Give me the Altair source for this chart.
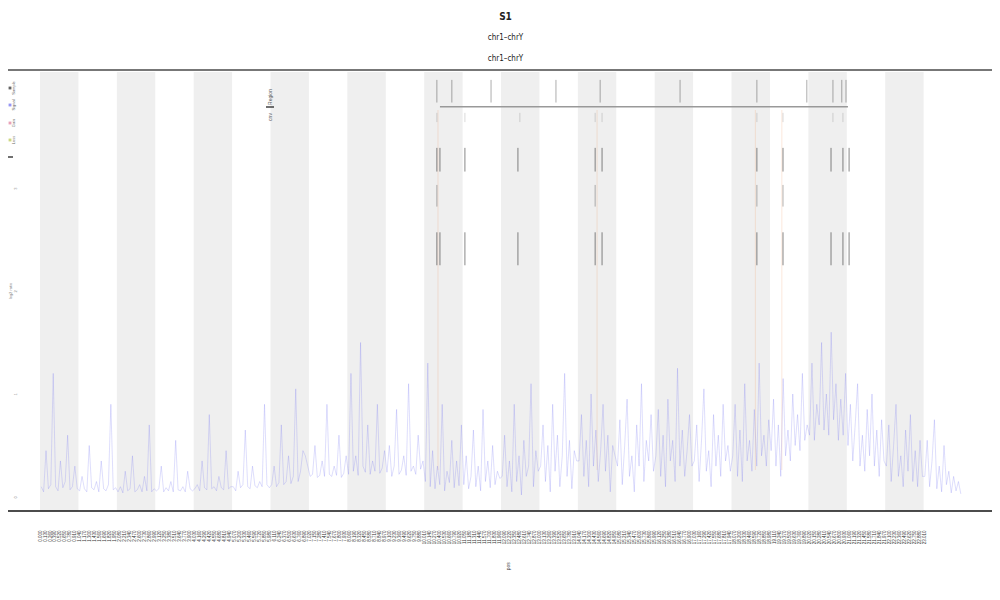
import altair as alt
import pandas as pd

# ---------------- data ----------------
n_segments = 24
# signal values per segment
seg_values = [
    [0.10,0.05,0.45,0.08,0.12,1.20,0.10,0.06,0.35,0.09,0.15,0.60,0.07,0.10,0.30,0.08],
    [0.06,0.20,0.08,0.05,0.50,0.09,0.07,0.15,0.05,0.35,0.08,0.06,0.12,0.90,0.07,0.09],
    [0.05,0.10,0.04,0.25,0.06,0.08,0.40,0.05,0.07,0.12,0.05,0.20,0.06,0.70,0.05,0.08],
    [0.06,0.08,0.30,0.05,0.09,0.06,0.15,0.05,0.55,0.07,0.06,0.10,0.05,0.25,0.08,0.06],
    [0.08,0.12,0.06,0.35,0.09,0.07,0.80,0.08,0.10,0.06,0.20,0.09,0.07,0.45,0.08,0.10],
    [0.10,0.06,0.25,0.09,0.12,0.65,0.10,0.08,0.30,0.11,0.09,0.15,0.10,0.90,0.12,0.09],
    [0.12,0.30,0.10,0.14,0.70,0.12,0.15,0.40,0.13,0.20,1.05,0.15,0.25,0.45,0.40,0.30],
    [0.20,0.22,0.50,0.19,0.21,0.35,0.20,0.90,0.22,0.20,0.30,0.21,0.60,0.19,0.23,0.40],
    [0.22,1.20,0.25,0.40,0.21,1.50,0.30,0.24,0.70,0.22,0.35,0.25,0.90,0.23,0.28,0.45],
    [0.24,0.50,0.20,0.30,0.85,0.22,0.26,0.40,0.21,1.10,0.25,0.30,0.22,0.60,0.27,0.35],
    [0.15,1.30,0.10,0.45,0.08,0.30,0.12,0.90,0.06,0.25,0.14,0.55,0.09,0.35,0.11,0.70],
    [0.12,0.40,0.08,0.20,0.65,0.10,0.30,0.06,0.85,0.15,0.35,0.09,0.50,0.12,0.25,0.18],
    [0.20,0.60,0.10,0.35,0.05,0.90,0.15,0.40,0.02,0.55,0.20,0.30,1.10,0.10,0.45,0.25],
    [0.30,0.70,0.15,0.50,0.05,0.90,0.25,0.60,0.10,0.40,1.20,0.20,0.55,0.08,0.45,0.35],
    [0.35,0.80,0.20,0.55,0.10,1.00,0.30,0.65,0.15,0.45,0.90,0.25,0.60,0.05,0.50,0.40],
    [0.30,0.75,0.12,0.50,0.95,0.20,0.40,0.05,0.70,0.30,1.10,0.15,0.55,0.35,0.80,0.25],
    [0.40,0.85,0.20,0.60,0.10,0.95,0.35,0.55,0.15,1.25,0.30,0.65,0.20,0.45,0.80,0.30],
    [0.35,0.70,0.15,0.55,1.05,0.25,0.45,0.10,0.80,0.30,0.60,0.20,0.90,0.35,0.50,0.25],
    [0.40,0.90,0.20,0.65,0.15,1.10,0.35,0.55,0.25,0.85,0.30,1.30,0.40,0.60,0.30,0.75],
    [0.45,0.95,0.30,0.70,0.20,1.15,0.40,0.65,0.35,1.00,0.50,0.80,0.45,1.20,0.55,0.70],
    [0.60,1.30,0.55,0.90,0.70,1.50,0.65,1.00,0.60,1.60,0.75,1.10,0.55,0.95,0.60,1.20],
    [0.50,0.90,0.35,0.70,1.10,0.30,0.60,0.25,0.85,0.40,1.00,0.30,0.65,0.20,0.75,0.35],
    [0.30,0.70,0.15,0.50,0.90,0.20,0.40,0.10,0.65,0.25,0.80,0.15,0.45,0.10,0.55,0.20],
    [0.20,0.55,0.10,0.35,0.75,0.08,0.30,0.05,0.50,0.12,0.25,0.04,0.20,0.06,0.15,0.03],
]

# annotation track events: (position, row)
event_pos = [10.33, 10.72, 11.74, 13.43, 14.58, 16.66, 18.66, 19.96, 20.64, 20.87, 20.98,
             10.33, 11.06, 12.49, 14.45, 14.63, 18.66, 19.34, 20.64, 20.90,
             10.33, 10.41, 11.06, 12.44, 14.45, 14.63, 18.66, 19.34, 20.59, 20.90, 21.06,
             10.33, 14.45, 18.66, 19.34,
             10.33, 10.41, 11.06, 12.44, 14.45, 14.63, 18.66, 19.34, 20.59, 20.90, 21.06]
event_row = ["A"]*11 + ["B"]*9 + ["C"]*11 + ["D"]*4 + ["E"]*11
row_top = {"A": 4.05, "B": 3.73, "C": 3.39, "D": 3.03, "E": 2.57}
row_bot = {"A": 3.83, "B": 3.64, "C": 3.16, "D": 2.82, "E": 2.25}
row_opacity = {"A": 0.55, "B": 0.25, "C": 0.8, "D": 0.5, "E": 0.8}

span_start, span_end, span_level = 10.41, 21.03, 3.79
marker_pos = [10.36, 14.50, 18.62, 19.31]

legend_labels = ["Sample", "Signal", "Gain", "Loss"]
legend_colors = ["#222222", "#6a6af0", "#e07a9a", "#b8c84a"]
title_lines = ["S1"]
subtitle_lines = ["chr1–chrY", "chr1–chrY"]
x_title = "pos"
y_title = "log2 ratio"

# ---------------- tables ----------------
rows = []
for i, vals in enumerate(seg_values):
    n = len(vals)
    for k, v in enumerate(vals):
        rows.append({"u": i + (k + 0.5) / n, "v": v})
line_df = pd.DataFrame(rows)

band_df = pd.DataFrame({"u": [float(i) for i in range(0, n_segments, 2)],
                        "u2": [float(i + 1) for i in range(0, n_segments, 2)]})
ev_df = pd.DataFrame({"u": event_pos, "row": event_row})
ev_df["v"] = ev_df["row"].map(row_top)
ev_df["v2"] = ev_df["row"].map(row_bot)
ev_df["op"] = ev_df["row"].map(row_opacity)
span_df = pd.DataFrame({"u": [span_start], "u2": [span_end], "v": [span_level]})
mk_df = pd.DataFrame({"u": marker_pos})
x_tick_values = [round(i * 0.13, 2) for i in range(178)]

W, H = 973, 441
xscale = alt.Scale(domain=[-0.547, 24.78], nice=False, zero=False)
yscale = alt.Scale(domain=[-0.136, 4.146], nice=False, zero=False)
xaxis = alt.Axis(values=x_tick_values, labelAngle=-90, labelFontSize=4.5, labelPadding=19,
                 labelColor="#333", format=".3f", labelOverlap=False, ticks=False, domain=False,
                 grid=False, title=x_title, titleFontSize=5, titleFontWeight="normal",
                 titleAngle=-90, titlePadding=22, titleColor="#444")
yaxis = alt.Axis(values=[0, 1, 2, 3], labelAngle=-90, labelFontSize=4, labelPadding=2,
                 labelColor="#888", ticks=False, domain=False, grid=False, title=y_title,
                 titleFontSize=4, titleFontWeight="normal", titlePadding=1, titleColor="#888")
X = alt.X("u:Q", scale=xscale, axis=xaxis)
Y = alt.Y("v:Q", scale=yscale, axis=yaxis)

bands = alt.Chart(band_df).mark_rect(color="#efefef").encode(
    x=X, x2="u2:Q", y=alt.value(2), y2=alt.value(H))

markers = alt.Chart(mk_df).mark_rule(color="#f0a070", strokeWidth=0.7, opacity=0.35).encode(
    x=X, y=alt.value(40), y2=alt.value(400))

line = alt.Chart(line_df).mark_line(color="#6a6af0", strokeWidth=0.5, opacity=0.45).encode(
    x=X, y=Y)

events = alt.Chart(ev_df).mark_rule(color="#000", strokeWidth=0.6).encode(
    x=X, y=Y, y2="v2:Q", opacity=alt.Opacity("op:Q", legend=None, scale=None))

span = alt.Chart(span_df).mark_rule(color="#999", strokeWidth=1.5).encode(
    x=X, x2="u2:Q", y=Y)

frame_df = pd.DataFrame({"k": ["top"]})
top_rule = alt.Chart(frame_df).mark_rule(color="#777", strokeWidth=2).encode(
    x=alt.value(-11), x2=alt.value(W + 10), y=alt.value(0))
bottom_rule = alt.Chart(frame_df).mark_rule(color="#111", strokeWidth=1.5).encode(
    x=alt.value(-11), x2=alt.value(W + 10), y=alt.value(H))

leg_df = pd.DataFrame({"label": legend_labels, "color": legend_colors,
                       "py": [18, 35, 53, 70]})
leg_sym = alt.Chart(leg_df).mark_square(size=8).encode(
    x=alt.value(-9), y=alt.Y("py:Q", scale=None),
    color=alt.Color("color:N", scale=None, legend=None))
leg_txt = alt.Chart(leg_df).mark_text(angle=270, fontSize=4, color="#666").encode(
    x=alt.value(-5), y=alt.Y("py:Q", scale=None), text="label:N")
leg_dash = alt.Chart(frame_df).mark_rule(color="#111", strokeWidth=1.2).encode(
    x=alt.value(-11), x2=alt.value(-6), y=alt.value(87))

inner_df = pd.DataFrame({"label": ["Region", "cnv"], "py": [27, 47]})
inner_txt = alt.Chart(inner_df).mark_text(angle=270, fontSize=5, color="#555").encode(
    x=alt.value(251), y=alt.Y("py:Q", scale=None), text="label:N")
inner_dash = alt.Chart(frame_df).mark_rule(color="#111", strokeWidth=1.2).encode(
    x=alt.value(247), x2=alt.value(255), y=alt.value(37))

chart = alt.layer(
    bands, markers, line, events, span, top_rule, bottom_rule,
    leg_sym, leg_txt, leg_dash, inner_txt, inner_dash
).properties(
    width=W, height=H,
    autosize=alt.AutoSizeParams(type="none"),
    padding={"left": 11, "top": 62, "right": 0, "bottom": 80},
    title=alt.TitleParams(text=title_lines, subtitle=subtitle_lines, anchor="middle",
                          fontSize=10, subtitleFontSize=8, subtitleLineHeight=21,
                          subtitlePadding=12, offset=6, color="#222", subtitleColor="#222",
                          font="Liberation Sans Narrow, DejaVu Sans Condensed, sans-serif",
                          subtitleFont="Liberation Sans Narrow, DejaVu Sans Condensed, sans-serif"),
).configure_view(stroke=None)

chart.save("out.html", embed_options={"renderer": "svg", "actions": False})
